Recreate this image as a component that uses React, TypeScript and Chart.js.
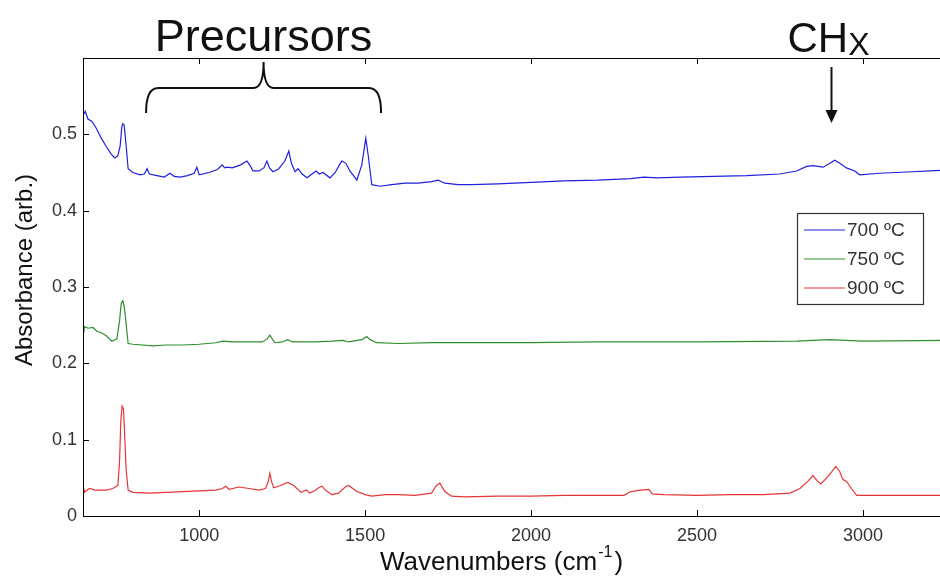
import React, { useEffect, useRef } from "react";
import { Chart, registerables } from "chart.js";

Chart.register(...registerables);

const xTicks = [1000, 1500, 2000, 2500, 3000];
const yTicks = [0, 0.1, 0.2, 0.3, 0.4, 0.5];
const seriesLabels = ["700 ºC", "750 ºC", "900 ºC"];
const seriesColors = ["#1f1fe0", "#2f8f2f", "#e63535"];
const xTitle = "Wavenumbers (cm";
const xTitleSup = "-1";
const yTitle = "Absorbance (arb.)";

const blueX = [650, 657, 665, 677, 690, 705, 720, 735, 746, 755, 762, 767, 770, 774, 779, 786, 800, 822, 835, 843, 850, 873, 895, 912, 925, 942, 965, 985, 993, 1000, 1030, 1055, 1069, 1077, 1084, 1100, 1125, 1144, 1155, 1162, 1180, 1195, 1204, 1212, 1222, 1240, 1258, 1270, 1278, 1289, 1298, 1310, 1325, 1340, 1352, 1362, 1373, 1394, 1410, 1425, 1430, 1442, 1454, 1465, 1475, 1490, 1502, 1510, 1520, 1545, 1580, 1620, 1660, 1700, 1720, 1740, 1780, 1820, 1900, 2000, 2100, 2200, 2300, 2340, 2380, 2450, 2550, 2650, 2749, 2800, 2830, 2850, 2880, 2900, 2915, 2930, 2950, 2975, 2990, 3050, 3100, 3150, 3200, 3250];
const blueY = [0.525, 0.530, 0.520, 0.517, 0.508, 0.495, 0.484, 0.474, 0.469, 0.472, 0.485, 0.510, 0.514, 0.512, 0.490, 0.455, 0.450, 0.447, 0.448, 0.455, 0.448, 0.446, 0.444, 0.449, 0.445, 0.444, 0.446, 0.449, 0.457, 0.447, 0.450, 0.454, 0.460, 0.456, 0.457, 0.456, 0.460, 0.465, 0.458, 0.452, 0.452, 0.456, 0.465, 0.456, 0.451, 0.455, 0.465, 0.478, 0.462, 0.451, 0.455, 0.448, 0.443, 0.448, 0.452, 0.448, 0.450, 0.443, 0.450, 0.462, 0.465, 0.462, 0.452, 0.446, 0.440, 0.460, 0.495, 0.470, 0.434, 0.432, 0.434, 0.436, 0.436, 0.438, 0.440, 0.436, 0.434, 0.434, 0.435, 0.437, 0.439, 0.440, 0.442, 0.444, 0.443, 0.444, 0.445, 0.446, 0.448, 0.452, 0.458, 0.459, 0.457, 0.462, 0.466, 0.462, 0.456, 0.452, 0.447, 0.449, 0.450, 0.451, 0.452, 0.453];

const greenX = [650, 655, 665, 680, 692, 705, 720, 737, 752, 760, 765, 770, 774, 778, 786, 800, 861, 900, 950, 1000, 1050, 1072, 1100, 1150, 1190, 1205, 1213, 1220, 1228, 1250, 1267, 1280, 1350, 1400, 1433, 1450, 1490, 1505, 1515, 1535, 1600, 1700, 1800, 2000, 2200, 2500, 2800, 2900, 3000, 3250];
const greenY = [0.235, 0.248, 0.246, 0.247, 0.242, 0.240, 0.236, 0.229, 0.232, 0.255, 0.278, 0.282, 0.275, 0.260, 0.226, 0.225, 0.223, 0.224, 0.224, 0.225, 0.227, 0.229, 0.228, 0.228, 0.228, 0.232, 0.237, 0.232, 0.227, 0.228, 0.231, 0.228, 0.228, 0.229, 0.230, 0.228, 0.231, 0.235, 0.231, 0.227, 0.226, 0.227, 0.227, 0.227, 0.228, 0.228, 0.229, 0.231, 0.229, 0.230];

const redX = [650, 655, 662, 670, 685, 700, 720, 740, 755, 760, 764, 768, 772, 775, 780, 786, 800, 850, 900, 950, 1000, 1050, 1070, 1080, 1090, 1120, 1150, 1180, 1200, 1208, 1213, 1218, 1225, 1245, 1267, 1285, 1307, 1323, 1333, 1348, 1360, 1370, 1380, 1400, 1420, 1440, 1450, 1460, 1475, 1500, 1520, 1560, 1600, 1650, 1700, 1715, 1725, 1740, 1760, 1800, 1900, 2000, 2100, 2200, 2280, 2300, 2330, 2355, 2365, 2400, 2500, 2600, 2700, 2780, 2810, 2835, 2849, 2862, 2873, 2895, 2918, 2930, 2939, 2951, 2965, 2981, 3050, 3150, 3250];
const redY = [0.040, 0.031, 0.034, 0.036, 0.034, 0.034, 0.034, 0.036, 0.040, 0.070, 0.125, 0.144, 0.140, 0.112, 0.060, 0.034, 0.031, 0.030, 0.031, 0.032, 0.033, 0.034, 0.036, 0.039, 0.035, 0.038, 0.036, 0.034, 0.036, 0.045, 0.056, 0.045, 0.037, 0.040, 0.044, 0.040, 0.031, 0.034, 0.030, 0.033, 0.037, 0.039, 0.034, 0.028, 0.030, 0.038, 0.040, 0.037, 0.032, 0.028, 0.026, 0.028, 0.028, 0.027, 0.030, 0.040, 0.043, 0.032, 0.026, 0.025, 0.026, 0.026, 0.027, 0.027, 0.027, 0.032, 0.034, 0.035, 0.029, 0.028, 0.027, 0.028, 0.028, 0.030, 0.036, 0.046, 0.053, 0.046, 0.042, 0.052, 0.065, 0.058, 0.048, 0.045, 0.036, 0.027, 0.027, 0.027, 0.027];

const FONT = "'Liberation Sans', Arial, sans-serif";

const decorPlugin = {
  id: "decor",
  afterDraw(chart: any) {
    const { ctx, chartArea } = chart;
    const { left, top, right, bottom } = chartArea;
    const xs = chart.scales.x;
    const ys = chart.scales.y;
    ctx.save();
    // box
    ctx.strokeStyle = "#000";
    ctx.lineWidth = 1;
    ctx.strokeRect(Math.round(left) + 0.5, Math.round(top) + 0.5, right - left, bottom - top);
    // inward ticks
    const tl = 6;
    ctx.beginPath();
    xTicks.forEach((v) => {
      const px = Math.round(xs.getPixelForValue(v)) + 0.5;
      ctx.moveTo(px, bottom);
      ctx.lineTo(px, bottom - tl);
      ctx.moveTo(px, top);
      ctx.lineTo(px, top + tl);
    });
    yTicks.forEach((v) => {
      const py = Math.round(ys.getPixelForValue(v)) + 0.5;
      ctx.moveTo(left, py);
      ctx.lineTo(left + tl, py);
      ctx.moveTo(right, py);
      ctx.lineTo(right - tl, py);
    });
    ctx.stroke();

    // axis titles
    ctx.fillStyle = "#111";
    ctx.font = "26px " + FONT;
    ctx.textBaseline = "alphabetic";
    ctx.textAlign = "left";
    const w1 = ctx.measureText(xTitle).width;
    ctx.font = "16px " + FONT;
    const w2 = ctx.measureText(xTitleSup).width;
    ctx.font = "26px " + FONT;
    const w3 = ctx.measureText(")").width;
    const total = w1 + w2 + 3 + w3;
    const tx = (left + right) / 2 - 13 - total / 2;
    const tyB = bottom + 54;
    ctx.fillText(xTitle, tx, tyB);
    ctx.font = "16px " + FONT;
    ctx.fillText(xTitleSup, tx + w1 + 1, tyB - 13);
    ctx.font = "26px " + FONT;
    ctx.fillText(")", tx + w1 + w2 + 3, tyB);

    ctx.font = "24px " + FONT;
    ctx.save();
    ctx.translate(left - 58, (top + bottom) / 2 - 17);
    ctx.rotate(-Math.PI / 2);
    ctx.textAlign = "center";
    ctx.textBaseline = "middle";
    ctx.fillText(yTitle, 0, 0);
    ctx.restore();

    // legend
    const lx = right - 149;
    const ly = top + 155;
    const lw = 126;
    const lh = 91;
    ctx.fillStyle = "#fff";
    ctx.fillRect(lx, ly, lw, lh);
    ctx.strokeStyle = "#333";
    ctx.lineWidth = 1.2;
    ctx.strokeRect(lx + 0.5, ly + 0.5, lw, lh);
    ctx.font = "19px " + FONT;
    ctx.textBaseline = "middle";
    ctx.textAlign = "left";
    seriesLabels.forEach((lab, i) => {
      const yy = ly + 17 + i * 29;
      ctx.strokeStyle = seriesColors[i];
      ctx.lineWidth = 1;
      ctx.beginPath();
      ctx.moveTo(lx + 7, yy);
      ctx.lineTo(lx + 48, yy);
      ctx.stroke();
      ctx.fillStyle = "#333";
      ctx.fillText(lab, lx + 50, yy + 1);
    });

    // Precursors bracket
    ctx.strokeStyle = "#111";
    ctx.lineWidth = 2;
    const bx1 = xs.getPixelForValue(840);
    const bx2 = xs.getPixelForValue(1548);
    const bc = (bx1 + bx2) / 2;
    const byEnd = top + 55;
    const byMid = top + 30;
    const byTip = top + 4;
    ctx.beginPath();
    ctx.moveTo(bx1, byEnd);
    ctx.quadraticCurveTo(bx1, byMid, bx1 + 12, byMid);
    ctx.lineTo(bc - 10, byMid);
    ctx.quadraticCurveTo(bc, byMid, bc, byTip);
    ctx.quadraticCurveTo(bc, byMid, bc + 10, byMid);
    ctx.lineTo(bx2 - 12, byMid);
    ctx.quadraticCurveTo(bx2, byMid, bx2, byEnd);
    ctx.stroke();
    ctx.fillStyle = "#111";
    ctx.font = "45px " + FONT;
    ctx.textAlign = "center";
    ctx.textBaseline = "alphabetic";
    ctx.fillText("Precursors", bc, top - 7);

    // CHx label and arrow
    const ax = Math.round(xs.getPixelForValue(2905)) + 0.5;
    ctx.font = "42px " + FONT;
    ctx.textAlign = "left";
    const chW = ctx.measureText("CH").width;
    const chLeft = ax - 44;
    ctx.fillText("CH", chLeft, top - 6);
    ctx.font = "32px " + FONT;
    ctx.fillText("X", chLeft + chW, top - 3);
    ctx.lineWidth = 2;
    ctx.beginPath();
    ctx.moveTo(ax, top + 9);
    ctx.lineTo(ax, top + 56);
    ctx.stroke();
    ctx.beginPath();
    ctx.moveTo(ax - 6, top + 52);
    ctx.lineTo(ax + 6, top + 52);
    ctx.lineTo(ax, top + 65);
    ctx.closePath();
    ctx.fill();
    ctx.restore();
  },
};

function mk(xv: number[], yv: number[]) {
  return xv.map((x, i) => ({ x, y: yv[i] }));
}

export default function App() {
  const ref = useRef<HTMLCanvasElement | null>(null);
  useEffect(() => {
    if (!ref.current) return;
    const chart = new Chart(ref.current, {
      type: "line",
      data: {
        datasets: [
          { label: seriesLabels[0], data: mk(blueX, blueY), borderColor: seriesColors[0], borderWidth: 1.2, pointRadius: 0, tension: 0 },
          { label: seriesLabels[1], data: mk(greenX, greenY), borderColor: seriesColors[1], borderWidth: 1.2, pointRadius: 0, tension: 0 },
          { label: seriesLabels[2], data: mk(redX, redY), borderColor: seriesColors[2], borderWidth: 1.2, pointRadius: 0, tension: 0 },
        ],
      },
      options: {
        animation: false,
        responsive: false,
        events: [],
        layout: { padding: { top: 58, right: 14, left: 0, bottom: 0 } },
        plugins: { legend: { display: false }, tooltip: { enabled: false } },
        scales: {
          x: {
            type: "linear",
            min: 650,
            max: 3250,
            afterBuildTicks: (s: any) => { s.ticks = xTicks.map((v) => ({ value: v })); },
            afterFit: (s: any) => { s.height = 67; },
            grid: { display: false, drawTicks: false },
            border: { display: false },
            ticks: { padding: 9, color: "#333", font: { family: FONT, size: 18 }, maxRotation: 0, autoSkip: false, callback: (v: any) => String(v) },
          },
          y: {
            type: "linear",
            min: 0,
            max: 0.6,
            afterBuildTicks: (s: any) => { s.ticks = yTicks.map((v) => ({ value: v })); },
            afterFit: (s: any) => { s.width = 83; },
            grid: { display: false, drawTicks: false },
            border: { display: false },
            ticks: { padding: 6, color: "#333", font: { family: FONT, size: 18 }, callback: (v: any) => String(v) },
          },
        },
      },
      plugins: [decorPlugin],
    });
    return () => chart.destroy();
  }, []);
  return (
    <div style={{ position: "fixed", left: 0, top: 0, width: 940, height: 583, overflow: "hidden", background: "#fff" }}>
      <canvas ref={ref} width={960} height={583} style={{ display: "block" }} />
    </div>
  );
}
